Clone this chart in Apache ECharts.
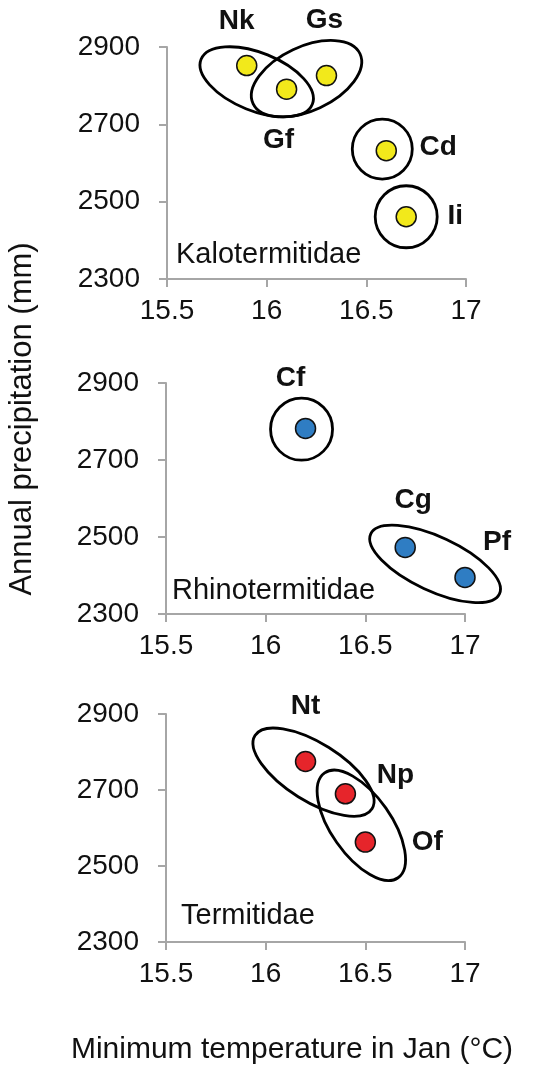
<!DOCTYPE html>
<html>
<head>
<meta charset="utf-8">
<script src="https://cdn.jsdelivr.net/npm/echarts@6/dist/echarts.min.js"></script>
<style>
  html, body { margin: 0; padding: 0; background: #fff; }
  #main { width: 533px; height: 1068px; }
</style>
</head>
<body>
<div id="main"></div>
<script>
// values
var families = ['Kalotermitidae', 'Rhinotermitidae', 'Termitidae'];

var kaloTaxa = ['Nk', 'Gf', 'Gs', 'Cd', 'Ii'];
var kaloTemp = [15.9, 16.1, 16.3, 16.6, 16.7];
var kaloPrecip = [2852, 2791, 2826, 2632, 2461];

var rhinoTaxa = ['Cf', 'Cg', 'Pf'];
var rhinoTemp = [16.2, 16.7, 17.0];
var rhinoPrecip = [2782, 2473, 2395];

var termTaxa = ['Nt', 'Np', 'Of'];
var termTemp = [16.2, 16.4, 16.5];
var termPrecip = [2775, 2690, 2563];

// group rings: centre in data units
var kaloRingTemp = [15.95, 16.20, 16.58, 16.70];
var kaloRingPrecip = [2810, 2818, 2636, 2461];
var rhinoRingTemp = [16.18, 16.85];
var rhinoRingPrecip = [2780, 2430];
var termRingTemp = [16.24, 16.48];
var termRingPrecip = [2747, 2607];

var xTicks = { min: 15.5, max: 17, interval: 0.5 };
var yTicks = { min: 2300, max: 2900, interval: 200 };

// ---- styling (not data) ----
var FONT = 'Liberation Sans, Arial, sans-serif';
var colors = ['#f2e91b', '#2f7dc3', '#e6252b'];
// ring shape in pixels: [rx, ry, rotation in degrees, anticlockwise]
var ringShapes = [
    [[60, 29, -22], [59, 32, 25], [30, 30, 0], [31, 31, 0]],
    [[31, 31, 0], [71, 27, -25]],
    [[69, 29, -32], [64, 30, -55]]
];
// label offsets from the dot, pixels
var labelOffset = {
    Nk: [-10, -44], Gf: [-8, 51], Gs: [-2, -55], Cd: [52, -3], Ii: [49, 0],
    Cf: [-15, -50], Cg: [8, -47], Pf: [32, -35],
    Nt: [0, -55], Np: [50, -19], Of: [62, 0]
};
var grids = [
    { left: 167, top: 47, width: 299, height: 232 },
    { left: 166, top: 383, width: 299, height: 231 },
    { left: 166, top: 714, width: 299, height: 228 }
];
var familyPos = [[176, 240], [172, 576], [181, 901]];

function zip(a, b) {
    return a.map(function (v, i) { return [v, b[i]]; });
}

var panels = [
    { taxa: kaloTaxa, temp: kaloTemp, precip: kaloPrecip, ringT: kaloRingTemp, ringP: kaloRingPrecip },
    { taxa: rhinoTaxa, temp: rhinoTemp, precip: rhinoPrecip, ringT: rhinoRingTemp, ringP: rhinoRingPrecip },
    { taxa: termTaxa, temp: termTemp, precip: termPrecip, ringT: termRingTemp, ringP: termRingPrecip }
];

var axisGray = { color: '#a6a6a6', width: 2 };
var xAxes = [], yAxes = [], series = [], titles = [];

panels.forEach(function (p, i) {
    xAxes.push({
        type: 'value', gridIndex: i,
        min: xTicks.min, max: xTicks.max, interval: xTicks.interval,
        axisLine: { show: true, lineStyle: axisGray },
        axisTick: { show: true, length: 8, lineStyle: axisGray },
        splitLine: { show: false },
        axisLabel: { fontSize: 28, color: '#111', fontFamily: FONT, margin: 18,
            formatter: function (v) { return String(v); } }
    });
    yAxes.push({
        type: 'value', gridIndex: i,
        min: yTicks.min, max: yTicks.max, interval: yTicks.interval,
        axisLine: { show: true, lineStyle: axisGray },
        axisTick: { show: true, length: 8, lineStyle: axisGray },
        splitLine: { show: false },
        axisLabel: { fontSize: 28, color: '#111', fontFamily: FONT, margin: 27,
            formatter: function (v) { return String(v); } }
    });

    var shapes = ringShapes[i];
    series.push({
        type: 'custom',
        xAxisIndex: i, yAxisIndex: i,
        silent: true, clip: false, z: 1,
        data: zip(p.ringT, p.ringP),
        renderItem: function (params, api) {
            var c = api.coord([api.value(0), api.value(1)]);
            var s = shapes[params.dataIndex];
            return {
                type: 'ellipse',
                x: c[0], y: c[1],
                rotation: s[2] * Math.PI / 180,
                shape: { cx: 0, cy: 0, rx: s[0], ry: s[1] },
                style: { fill: 'none', stroke: '#000', lineWidth: 2.8 }
            };
        }
    });

    series.push({
        type: 'scatter',
        xAxisIndex: i, yAxisIndex: i,
        z: 3,
        symbolSize: 20,
        itemStyle: { color: colors[i], borderColor: '#111', borderWidth: 1.5, opacity: 1 },
        data: p.taxa.map(function (name, k) {
            return {
                name: name,
                value: [p.temp[k], p.precip[k]],
                label: { offset: labelOffset[name] }
            };
        }),
        label: {
            show: true,
            position: 'inside',
            formatter: '{b}',
            fontSize: 28,
            fontWeight: 'bold',
            color: '#111',
            fontFamily: FONT
        }
    });

    titles.push({
        text: families[i],
        left: familyPos[i][0], top: familyPos[i][1],
        textStyle: { fontSize: 29, fontWeight: 'normal', color: '#111', fontFamily: FONT },
        padding: 0
    });
});

var chartDom = document.getElementById('main');
var myChart = echarts.init(chartDom);
var option = {
    backgroundColor: '#fff',
    animation: false,
    title: titles,
    grid: grids,
    xAxis: xAxes,
    yAxis: yAxes,
    series: series,
    graphic: [
        {
            type: 'text', x: 22, y: 419, rotation: Math.PI / 2,
            style: {
                text: 'Annual precipitation (mm)', fontSize: 31, fill: '#111',
                fontFamily: FONT, align: 'center', verticalAlign: 'middle'
            }
        },
        {
            type: 'text', x: 292, y: 1050,
            style: {
                text: 'Minimum temperature in Jan (\u00B0C)', fontSize: 30, fill: '#111',
                fontFamily: FONT, align: 'center', verticalAlign: 'middle'
            }
        }
    ]
};
option && myChart.setOption(option);
</script>
</body>
</html>
